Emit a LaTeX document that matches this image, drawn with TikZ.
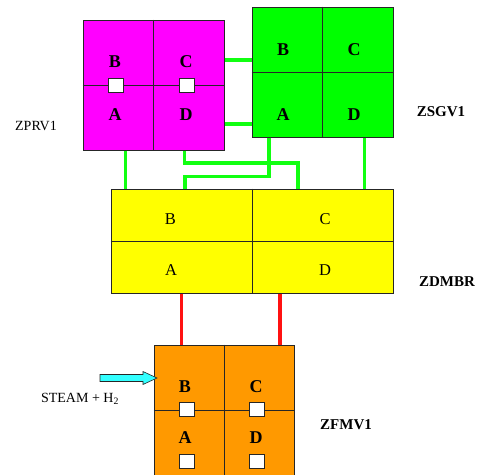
\documentclass[tikz,border=0pt]{standalone}
\usepackage{fontspec}
\setmainfont{Liberation Serif}
\definecolor{prvmag}{HTML}{FF00FF}
\definecolor{sgvgreen}{HTML}{00FF00}
\definecolor{dmbyellow}{HTML}{FFFF00}
\definecolor{fmvorange}{HTML}{FF9900}
\definecolor{steamcyan}{HTML}{33FFFF}
\definecolor{pipegreen}{HTML}{11FF11}
\definecolor{pipered}{HTML}{FF1111}
\begin{document}
\begin{tikzpicture}[x=1pt,y=-1pt,
  box/.style={draw=black!85, line width=1pt, inner sep=0pt},
  split/.style={draw=black!85, line width=0.8pt},
  port/.style={draw=black!85, fill=white, line width=0.8pt, inner sep=0pt, minimum width=15pt, minimum height=14pt},
  cellbold/.style={font=\fontsize{18}{18}\selectfont\bfseries, inner sep=0pt},
  cellthin/.style={font=\fontsize{16.5}{16.5}\selectfont, inner sep=0pt},
  tag/.style={font=\fontsize{15}{15}\selectfont\bfseries, inner sep=0pt},
  pipe/.style={draw=pipegreen, line width=3.2pt},
  feed/.style={draw=pipered, line width=3.2pt}]
\useasboundingbox (0,0) rectangle (479,474);

%boxes
\node[box, fill=prvmag, minimum width=141pt, minimum height=130pt] (prv) at (153.5,85) {};
\draw[split] (prv.north) -- (prv.south);
\draw[split] (prv.west) -- (prv.east);
\node[cellbold] (prvB) at (115,62) {B};
\node[cellbold] (prvC) at (186,62) {C};
\node[cellbold] (prvA) at (115,115) {A};
\node[cellbold] (prvD) at (186,115) {D};
\node[port] (prvBp) at (115.5,85) {};
\node[port] (prvCp) at (186.5,85) {};

\node[box, fill=sgvgreen, minimum width=141pt, minimum height=130pt] (sgv) at (322.5,72) {};
\draw[split] (sgv.north) -- (sgv.south);
\draw[split] (sgv.west) -- (sgv.east);
\node[cellbold] (sgvB) at (283,50) {B};
\node[cellbold] (sgvC) at (354,50) {C};
\node[cellbold] (sgvA) at (283,115) {A};
\node[cellbold] (sgvD) at (354,115) {D};

\node[box, fill=dmbyellow, minimum width=282pt, minimum height=104pt] (dmb) at (252,241) {};
\draw[split] (dmb.north) -- (dmb.south);
\draw[split] (dmb.west) -- (dmb.east);
\node[cellthin] (dmbB) at (170.5,219) {B};
\node[cellthin] (dmbC) at (325,219) {C};
\node[cellthin] (dmbA) at (171,270) {A};
\node[cellthin] (dmbD) at (325,270) {D};

\node[box, fill=fmvorange, minimum width=140pt, minimum height=130pt] (fmv) at (224,410) {};
\draw[split] (fmv.north) -- (fmv.south);
\draw[split] (fmv.west) -- (fmv.east);
\node[cellbold] (fmvB) at (185,387) {B};
\node[cellbold] (fmvC) at (256,387) {C};
\node[cellbold] (fmvA) at (185,438) {A};
\node[cellbold] (fmvD) at (256,438) {D};
\node[port] (fmvBp) at (186.5,409) {};
\node[port] (fmvCp) at (256.5,409) {};
\node[port] (fmvAp) at (186.5,461) {};
\node[port] (fmvDp) at (256.5,461) {};

%labels
\node[font=\fontsize{14}{14}\selectfont, inner sep=0pt] (prvtag) at (36,126) {ZPRV1};
\node[tag] (sgvtag) at (441,112) {ZSGV1};
\node[tag] (dmbtag) at (447,282) {ZDMBR};
\node[tag] (fmvtag) at (346,425) {ZFMV1};

%pipes
\draw[pipe] (prv.east |- 0,60) -- (sgv.west |- 0,60);
\draw[pipe] (prv.east |- 0,124) -- (sgv.west |- 0,124);
\draw[pipe] (prv.south -| 125.5,0) -- (dmb.north -| 125.5,0);
\draw[pipe] (prv.south -| 184.5,0) |- (298,163) -- (dmb.north -| 298,0);
\draw[pipe] (sgv.south -| 269,0) |- (185,176.5) -- (dmb.north -| 185,0);
\draw[pipe] (sgv.south -| 364.5,0) -- (dmb.north -| 364.5,0);
\draw[feed] (dmb.south -| 181.5,0) -- (fmv.north -| 181.5,0);
\draw[feed] (dmb.south -| 280,0) -- (fmv.north -| 280,0);

%steam inlet
\coordinate (inlet) at (157,378);
\draw[fill=steamcyan, draw=black!85, line width=0.6pt] (100,374.5) -- (143,374.5) -- (143,371.5)
  -- (inlet) -- (143,384.5) -- (143,381.5) -- (100,381.5) -- cycle;
\node[font=\fontsize{14}{14}\selectfont, inner sep=0pt, anchor=base] (steam) at (80,402.3) {STEAM + H\textsubscript{2}};
\end{tikzpicture}
\end{document}
